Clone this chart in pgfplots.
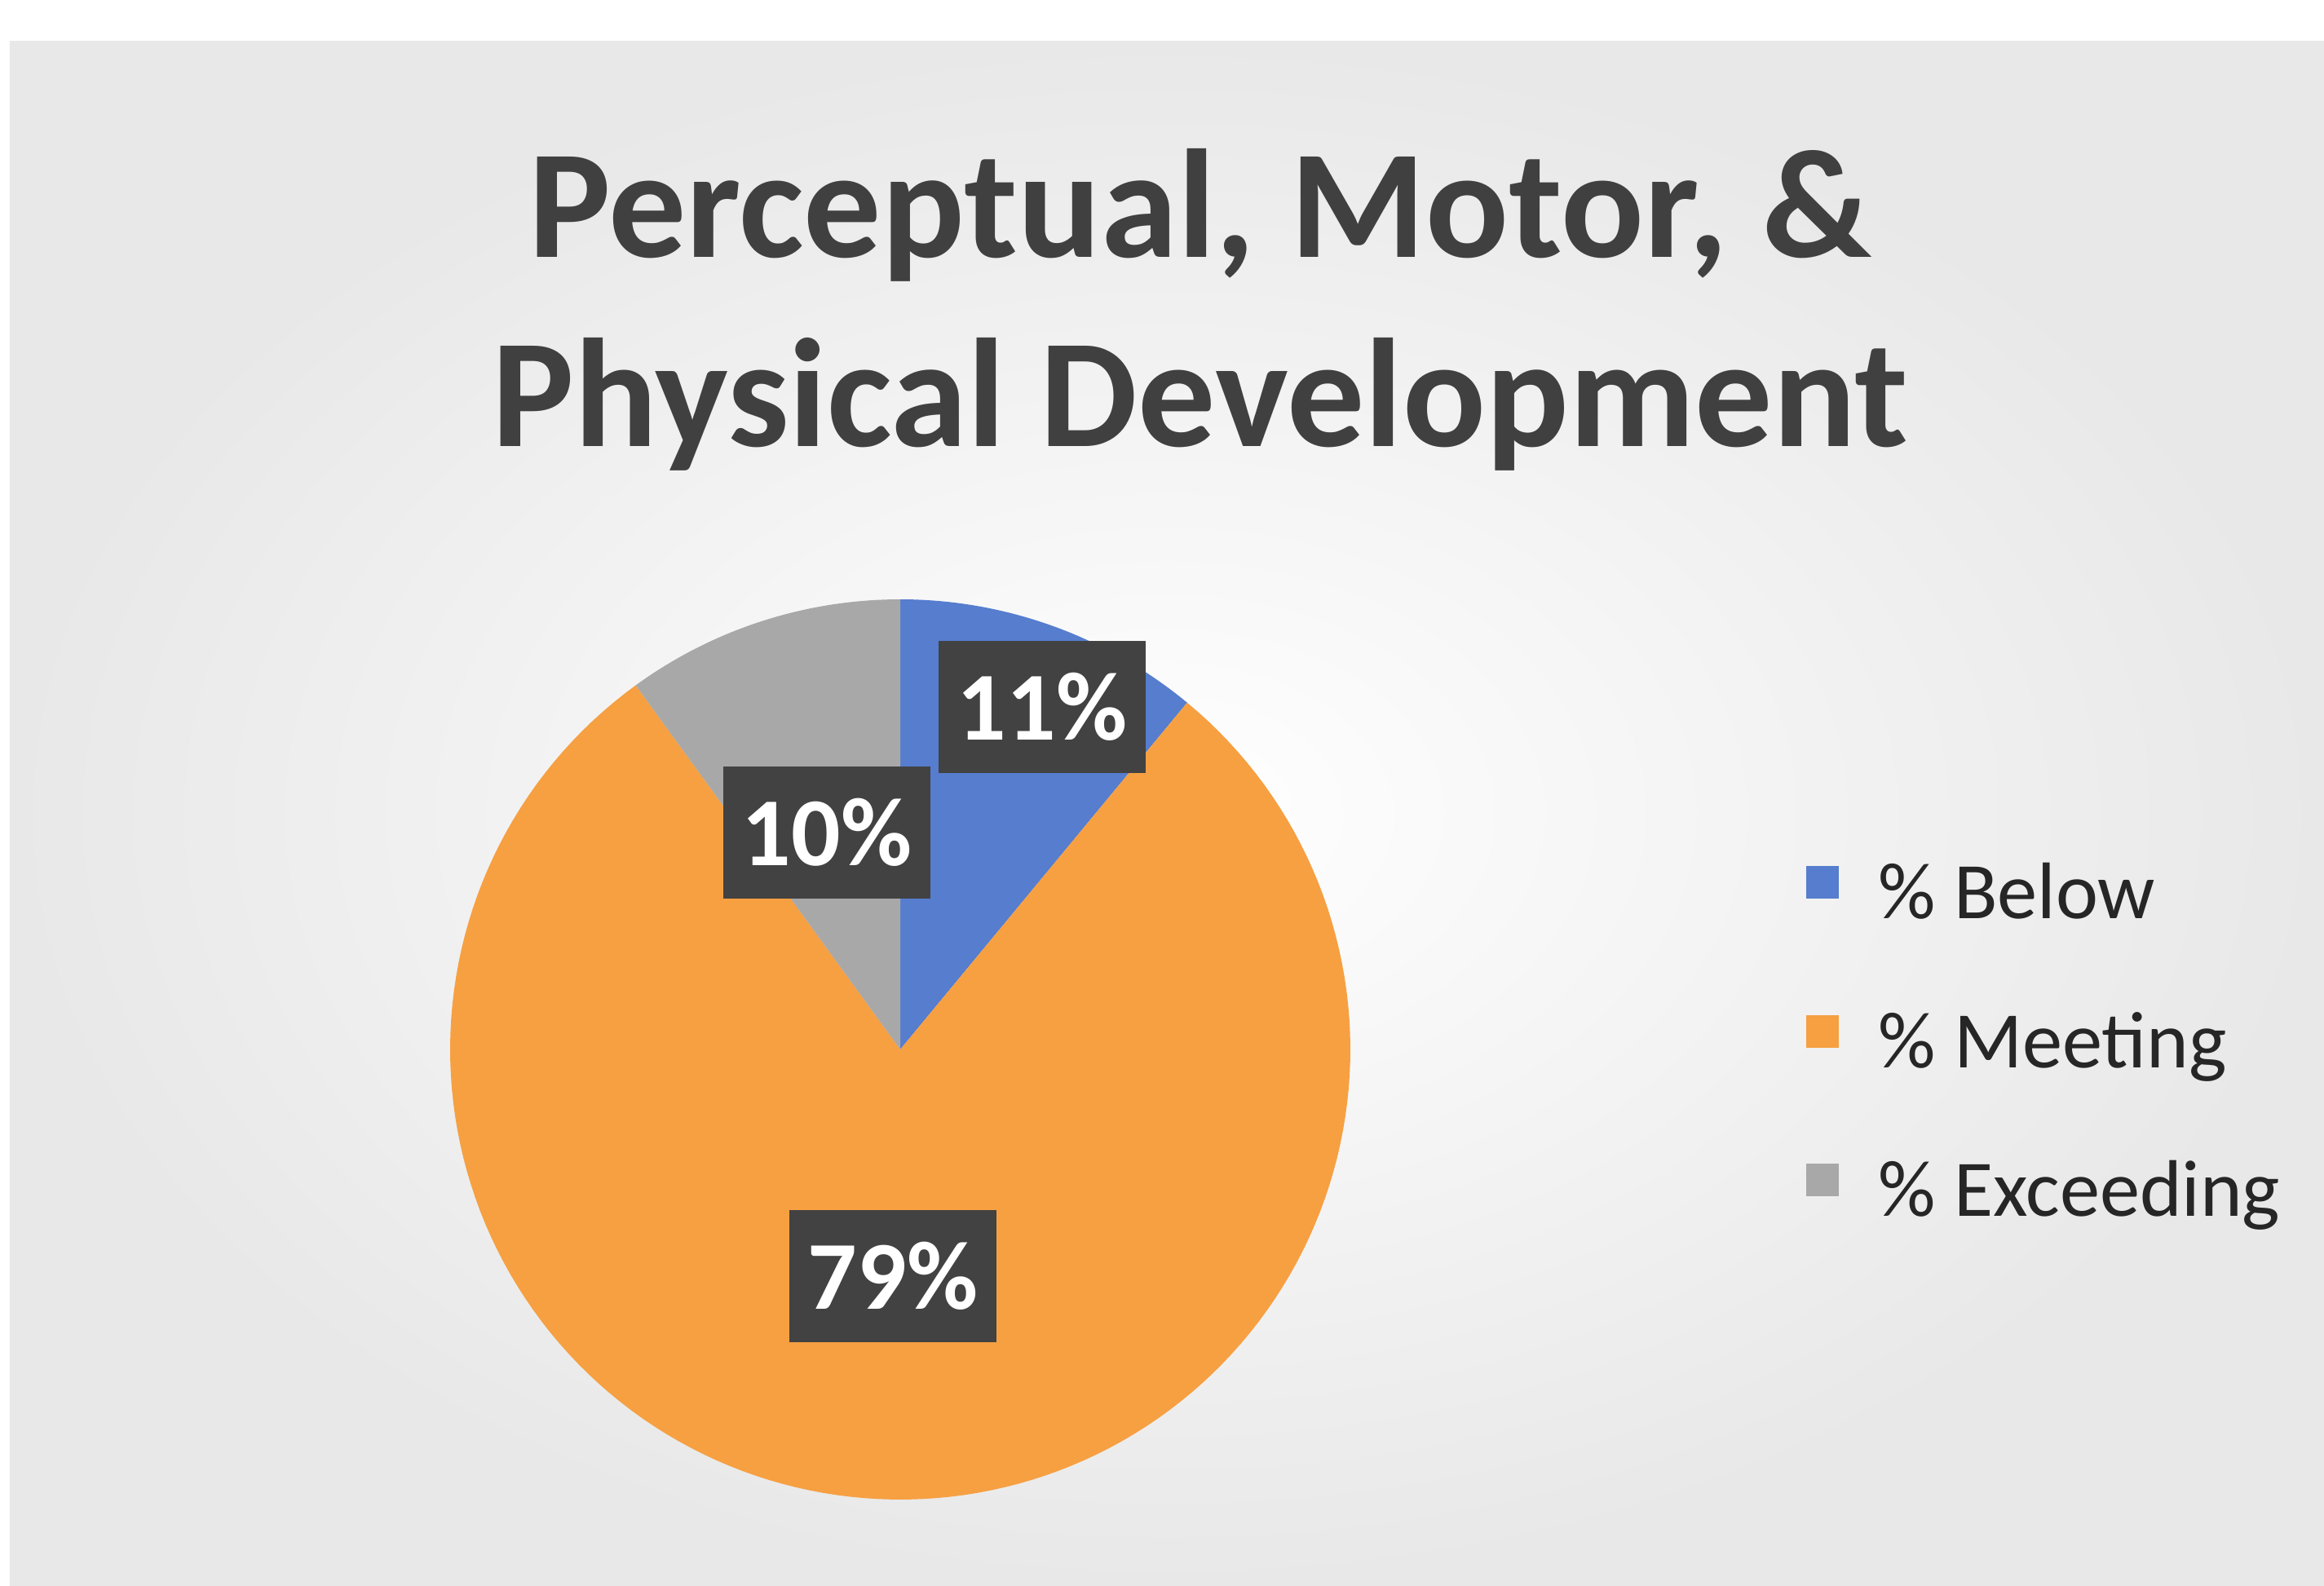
\documentclass[border=0pt]{standalone}
\usepackage{pgfplots}
\pgfplotsset{compat=1.18}
\usepackage{fontspec}
\setmainfont{Carlito}

\definecolor{cBelow}{RGB}{86,125,206}
\definecolor{cMeeting}{RGB}{246,160,66}
\definecolor{cExceed}{RGB}{168,168,168}
\definecolor{lblbox}{RGB}{66,66,66}
\definecolor{titlegray}{RGB}{64,64,64}

% slice values (percent)
\def\vBelow{11}
\def\vMeeting{79}
\def\vExceed{10}
% start at 12 o'clock, go clockwise
\pgfmathsetmacro{\aA}{90}
\pgfmathsetmacro{\aB}{\aA-3.6*\vBelow}
\pgfmathsetmacro{\aC}{\aB-3.6*\vMeeting}
\pgfmathsetmacro{\aD}{\aC-3.6*\vExceed}

\begin{document}
\begin{tikzpicture}
\begin{axis}[
	hide axis,
	scale only axis,
	width=14.25cm, height=9.725cm,
	xmin=0, xmax=2850, ymin=0, ymax=1945,
	clip=false,
	legend cell align=left,
	legend image code/.code={\fill[#1] (0mm,0.32em-1mm) rectangle (2mm,0.32em+1mm);},
	legend style={
		at={(axis cs:2214,658)}, anchor=west,
		draw=none, fill=none, inner sep=0pt,
		font=\fontsize{14}{16}\selectfont, text=black!85,
		row sep=4.9mm,
		nodes={inner sep=0pt, text height=3.2mm, text depth=1.0mm},
		/tikz/every odd column/.append style={column sep=2.4mm},
	},
]
% background panel
\fill[white] (axis cs:0,0) rectangle (axis cs:2850,1945);
\shade[inner color=white, outer color=black!9] (axis cs:12,0) rectangle (axis cs:2850,1895);

% slices
\addplot[draw=none, fill=cBelow, domain=\aB:\aA, samples=40, variable=\t]
	({1104+552*cos(\t)}, {658+552*sin(\t)}) -- (axis cs:1104,658) -- cycle;
\addlegendentry{\% Below}
\addplot[draw=none, fill=cMeeting, domain=\aC:\aB, samples=160, variable=\t]
	({1104+552*cos(\t)}, {658+552*sin(\t)}) -- (axis cs:1104,658) -- cycle;
\addlegendentry{\% Meeting}
\addplot[draw=none, fill=cExceed, domain=\aD:\aC, samples=40, variable=\t]
	({1104+552*cos(\t)}, {658+552*sin(\t)}) -- (axis cs:1104,658) -- cycle;
\addlegendentry{\% Exceeding}

% data labels
\tikzset{lbl/.style={fill=lblbox, text=white, inner sep=0pt,
	minimum width=12.7mm, minimum height=8.1mm,
	font=\bfseries\fontsize{17}{17}\selectfont}}
\node[lbl] at (axis cs:1278,1078) {11\%};
\node[lbl] at (axis cs:1014,924) {10\%};
\node[lbl] at (axis cs:1095,380) {79\%};

% title
\node[align=center, text=titlegray, font=\bfseries\fontsize{27}{33}\selectfont]
	at (axis cs:1472,1565) {Perceptual, Motor, \&\\Physical Development};
\end{axis}
\end{tikzpicture}
\end{document}
